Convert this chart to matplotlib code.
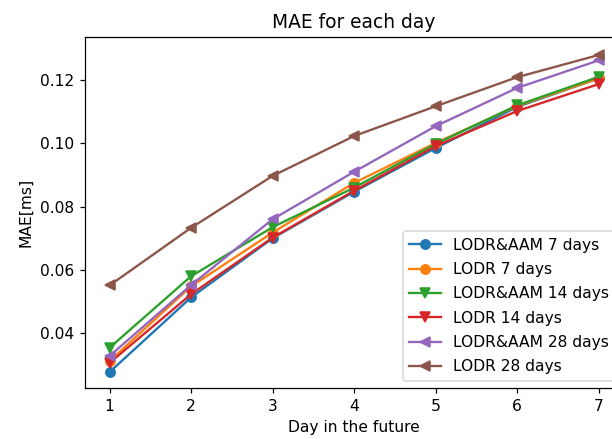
import matplotlib
matplotlib.use("Agg")
from matplotlib import pyplot as plt

days = [1, 2, 3, 4, 5, 6, 7]

# MAE per forecast day for each model / window length
lodr_aam_7 = [0.0277, 0.0513, 0.0700, 0.0847, 0.0985, 0.1115, 0.1205]
lodr_7 = [0.0312, 0.0548, 0.0718, 0.0875, 0.1001, 0.1118, 0.1205]
lodr_aam_14 = [0.0354, 0.0580, 0.0735, 0.0860, 0.0998, 0.1120, 0.1210]
lodr_14 = [0.0306, 0.0523, 0.0702, 0.0850, 0.0991, 0.1102, 0.1187]
lodr_aam_28 = [0.0328, 0.0552, 0.0760, 0.0910, 0.1054, 0.1175, 0.1262]
lodr_28 = [0.0551, 0.0733, 0.0897, 0.1023, 0.1117, 0.1209, 0.1279]

series = [
    ("LODR&AAM 7 days", lodr_aam_7, "o"),
    ("LODR 7 days", lodr_7, "o"),
    ("LODR&AAM 14 days", lodr_aam_14, "v"),
    ("LODR 14 days", lodr_14, "v"),
    ("LODR&AAM 28 days", lodr_aam_28, "<"),
    ("LODR 28 days", lodr_28, "<"),
]

dpi = 112
fig = plt.figure(figsize=(612 / dpi, 439 / dpi), dpi=dpi)
# axes run a little past the right edge of the figure
ax = fig.add_axes([0.139, 0.1155, 0.879, 0.7995])

for label, vals, m in series:
    ax.plot(days, vals, marker=m, label=label)

ax.set_ylim(0.0226, 0.1335)
ax.set_xlim(0.7, 7.3)
ax.set_yticks([0.04, 0.06, 0.08, 0.10, 0.12])
ax.set_title("MAE for each day")
ax.set_xlabel("Day in the future")
ax.set_ylabel("MAE[ms]")
ax.legend(loc="lower right", labelspacing=0.6)

plt.savefig("out.png", dpi=dpi)
